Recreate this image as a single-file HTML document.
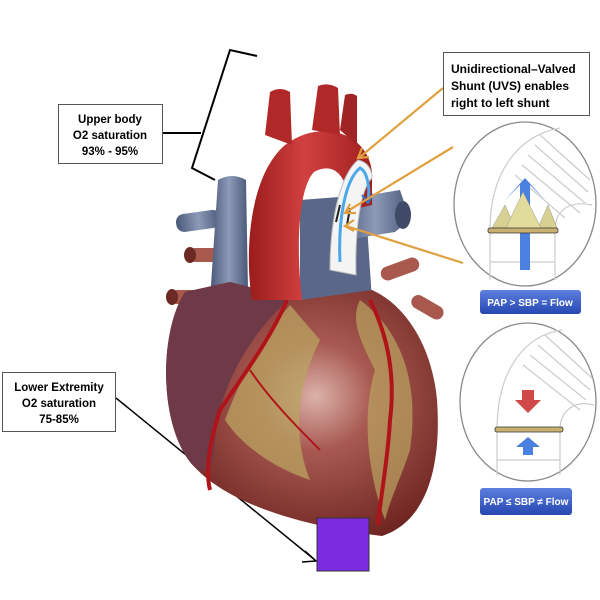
<!DOCTYPE html>
<html><head><style>
html,body{margin:0;padding:0;background:#fff;width:600px;height:600px;overflow:hidden}
svg{display:block}
text{font-family:"Liberation Sans",sans-serif;font-weight:bold}
</style></head><body>
<svg width="600" height="600" viewBox="0 0 600 600" xmlns="http://www.w3.org/2000/svg">
<defs>
<radialGradient id="hg" cx="0.55" cy="0.45" r="0.6">
<stop offset="0" stop-color="#dcb2aa"/><stop offset="0.35" stop-color="#a85a52"/><stop offset="1" stop-color="#6e2420"/>
</radialGradient>
<linearGradient id="ao" x1="0" x2="1"><stop offset="0" stop-color="#9b1c1c"/><stop offset="0.45" stop-color="#d24040"/><stop offset="1" stop-color="#a01f1f"/></linearGradient>
<linearGradient id="bl" x1="0" x2="1"><stop offset="0" stop-color="#4a5878"/><stop offset="0.5" stop-color="#8d9ab8"/><stop offset="1" stop-color="#4a5878"/></linearGradient>
<linearGradient id="pb" x1="0" x2="0" y1="0" y2="1"><stop offset="0" stop-color="#5d7fe0"/><stop offset="1" stop-color="#2647b0"/></linearGradient>
</defs>

<polyline points="257,56 230,50 192,168 215,180" fill="none" stroke="#000" stroke-width="2"/>
<line x1="163" y1="133" x2="201" y2="133" stroke="#000" stroke-width="2"/>
<line x1="116" y1="398" x2="315" y2="560" stroke="#000" stroke-width="1.5"/>
<polyline points="305,551 316,561 302,562" fill="none" stroke="#000" stroke-width="1.5"/>

<rect x="176" y="212" width="45" height="18" rx="8" fill="url(#bl)" transform="rotate(-8 198 221)"/>
<rect x="188" y="248" width="35" height="14" rx="7" fill="#a8584c"/>
<ellipse cx="190" cy="255" rx="6" ry="8" fill="#6b2a24"/>
<rect x="170" y="290" width="35" height="14" rx="7" fill="#a8584c"/>
<ellipse cx="172" cy="297" rx="6" ry="8" fill="#6b2a24"/>
<rect x="380" y="262" width="40" height="14" rx="7" fill="#a8584c" transform="rotate(-20 400 269)"/>
<rect x="410" y="300" width="35" height="14" rx="7" fill="#a8584c" transform="rotate(30 427 307)"/>
<path d="M218,180 Q232,172 246,180 L248,290 L210,300 Z" fill="url(#bl)"/>
<path d="M300,200 L365,195 L372,300 L300,310 Z" fill="#5a6788"/>
<path d="M340,200 L400,190 L410,220 L395,232 L345,240 Z" fill="url(#bl)"/>
<ellipse cx="403" cy="215" rx="8" ry="14" fill="#3e4a66"/>

<path d="M185,292 C160,330 158,420 190,462 C230,510 320,528 382,536 C425,522 442,470 437,400 C432,345 405,305 372,290 L300,300 L230,282 Z" fill="url(#hg)"/>
<path d="M185,292 C160,330 158,420 190,462 C205,480 215,470 215,440 C220,380 255,330 290,298 L230,282 Z" fill="#6e3a48"/>
<path d="M290,305 C260,340 240,380 225,420 C245,450 280,470 310,480 C290,430 300,380 320,340 Z" fill="#b9a460" opacity="0.75"/>
<path d="M360,300 C400,330 420,380 410,450 C400,480 390,500 385,520 C370,480 360,420 375,370 C360,340 350,320 360,300 Z" fill="#b9a460" opacity="0.7"/>
<path d="M287,300 C270,340 240,380 220,410 C210,440 205,470 210,490" fill="none" stroke="#b0141a" stroke-width="4"/>
<path d="M370,300 C390,340 395,380 390,420 C388,460 380,500 378,525" fill="none" stroke="#b0141a" stroke-width="4"/>
<path d="M250,370 C270,400 300,430 320,450" fill="none" stroke="#b0141a" stroke-width="2"/>

<path d="M252,300 C244,250 250,175 285,145 C320,118 368,132 372,172 L372,205 L350,210 C348,172 332,162 314,172 C298,188 296,250 302,300 Z" fill="url(#ao)"/>
<path d="M265,135 L270,92 Q280,86 290,92 L292,145 Z" fill="#b02828"/>
<path d="M312,130 L318,86 Q328,82 338,88 L340,135 Z" fill="#b02828"/>
<path d="M340,130 L345,95 Q352,92 357,96 L357,145 Z" fill="#a02424"/>

<path d="M330,270 C330,220 340,175 358,160 C368,162 372,170 372,178 C360,190 355,230 356,275 Z" fill="#f4f4f4" stroke="#bbb" stroke-width="1"/>
<path d="M340,262 C338,220 345,180 360,168 C368,172 370,190 368,200" fill="none" stroke="#4aa8e8" stroke-width="3"/>
<polyline points="362,195 368,203 373,194" fill="none" stroke="#2a7ad0" stroke-width="2"/>
<path d="M336,222 L340,205 M347,225 L350,208" stroke="#222" stroke-width="2"/>

<g stroke="#e0a040" stroke-width="2.2" fill="none">
<line x1="443" y1="88" x2="360" y2="157"/>
<polyline points="362,148 358,158 369,157"/>
<line x1="453" y1="147" x2="346" y2="212"/>
<polyline points="350,204 345,213 356,213"/>
<line x1="463" y1="263" x2="346" y2="226"/>
<polyline points="354,220 345,226 354,231"/>
</g>

<rect x="317" y="518" width="52" height="53" fill="#7b2be0" stroke="#333" stroke-width="1"/>

<rect x="58.5" y="104.5" width="104" height="59" fill="#fff" stroke="#555"/>
<text x="110" y="123" font-size="11.5" text-anchor="middle">Upper body</text>
<text x="110" y="139" font-size="11.5" text-anchor="middle">O2 saturation</text>
<text x="110" y="155" font-size="11.5" text-anchor="middle">93% - 95%</text>
<rect x="2.5" y="372.5" width="113" height="59" fill="#fff" stroke="#555"/>
<text x="59" y="391" font-size="11.5" text-anchor="middle">Lower Extremity</text>
<text x="59" y="407" font-size="11.5" text-anchor="middle">O2 saturation</text>
<text x="59" y="423" font-size="11.5" text-anchor="middle">75-85%</text>
<rect x="443.5" y="52.5" width="146" height="63" fill="#fff" stroke="#555"/>
<text x="451" y="73" font-size="12">Unidirectional–Valved</text>
<text x="451" y="90" font-size="12">Shunt  (UVS) enables</text>
<text x="451" y="107" font-size="12">right to left shunt</text>

<ellipse cx="525" cy="204" rx="71" ry="82" fill="#fff" stroke="#888" stroke-width="1.3"/>
<g stroke="#ccc" fill="none" stroke-width="1.2">
<path d="M540,135 L590,180"/><path d="M535,145 L588,192"/><path d="M528,155 L585,203"/><path d="M522,165 L580,213"/><path d="M515,175 L565,218"/>
<path d="M490,230 C490,170 520,135 560,128"/><path d="M555,230 C555,210 570,200 592,205"/>
<path d="M490,230 L490,280 M555,230 L555,280 M490,262 L555,262"/>
</g>
<polygon points="505,200 520,185 520,270 530,270 530,185 545,200 525,178" fill="#4a80e0"/>
<polygon points="492,228 505,205 515,228" fill="#d8d090" stroke="#998" stroke-width="0.5"/>
<polygon points="538,228 548,205 557,228" fill="#d8d090" stroke="#998" stroke-width="0.5"/>
<polygon points="505,230 523,192 542,230" fill="#e2dc9c" stroke="#998" stroke-width="0.5"/>
<rect x="488" y="228" width="70" height="5" rx="2" fill="#c8b070" stroke="#333" stroke-width="0.8"/>
<rect x="480" y="290" width="101" height="24" rx="3" fill="url(#pb)"/>
<text x="530" y="306" font-size="10" fill="#fff" text-anchor="middle" font-weight="normal">PAP &gt; SBP = Flow</text>

<ellipse cx="528" cy="402" rx="68" ry="79" fill="#fff" stroke="#888" stroke-width="1.3"/>
<g stroke="#ccc" fill="none" stroke-width="1.2">
<path d="M545,335 L592,378"/><path d="M538,345 L590,390"/><path d="M530,355 L586,400"/><path d="M523,365 L580,410"/>
<path d="M497,430 C497,370 525,335 562,330"/><path d="M560,430 C560,410 575,400 594,405"/>
<path d="M497,430 L497,475 M560,430 L560,475 M497,460 L560,460"/>
</g>
<polygon points="522,390 522,400 515,400 528,413 541,400 534,400 534,390" fill="#d04848"/>
<rect x="495" y="427" width="68" height="5" rx="2" fill="#c8b070" stroke="#333" stroke-width="0.8"/>
<polygon points="523,455 523,447 516,447 528,437 540,447 533,447 533,455" fill="#4a80e0"/>
<rect x="480" y="488" width="92" height="27" rx="3" fill="url(#pb)"/>
<text x="526" y="505" font-size="10" fill="#fff" text-anchor="middle" font-weight="normal">PAP ≤ SBP ≠ Flow</text>
</svg>
</body></html>
